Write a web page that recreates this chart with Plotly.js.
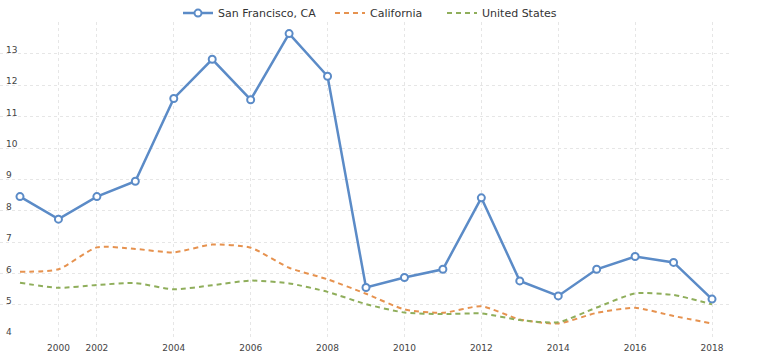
<!DOCTYPE html>
<html>
<head>
<meta charset="utf-8">
<script src="https://cdn.plot.ly/plotly-3.0.1.min.js"></script>
<style>html,body{margin:0;padding:0;background:#fff;}#chart{width:768px;height:353px;}</style>
</head>
<body>
<div id="chart"></div>
<script>
const years = ["1999","2000","2002","2003","2004","2005","2006","2007","2008","2009","2010","2011","2012","2013","2014","2015","2016","2017","2018"];
const sanFrancisco = [8.45,7.73,8.45,8.94,11.58,12.83,11.54,13.65,12.29,5.55,5.87,6.13,8.41,5.76,5.28,6.13,6.54,6.35,5.18];
const california = [6.05,6.13,6.83,6.78,6.67,6.92,6.82,6.18,5.81,5.35,4.85,4.74,4.95,4.53,4.40,4.74,4.90,4.64,4.40];
const unitedStates = [5.70,5.54,5.63,5.69,5.49,5.62,5.77,5.68,5.41,5.02,4.75,4.70,4.72,4.51,4.44,4.91,5.36,5.31,5.01];
const xTickYears = ["2000","2002","2004","2006","2008","2010","2012","2014","2016","2018"];
const yTickVals = [4,5,6,7,8,9,10,11,12,13,14];
const yTickText = ["4","5","6","7","8","9","10","11","12","13",""];

const font = {family: "DejaVu Sans, Verdana, sans-serif", size: 9, color: "#444"};
const legendFont = {family: "DejaVu Sans, Verdana, sans-serif", size: 11, color: "#333"};

const traces = [
  {x: years, y: sanFrancisco, name: "San Francisco, CA", type: "scatter", mode: "lines+markers", legend: "legend",
   line: {color: "#5b8bc7", width: 2.5},
   marker: {symbol: "circle", size: 7, color: "#ffffff", line: {color: "#5b8bc7", width: 2}}},
  {x: years, y: california, name: "California", type: "scatter", mode: "lines", legend: "legend2",
   line: {color: "#e6924f", width: 2, dash: "5px,4px", shape: "spline", smoothing: 0.6}},
  {x: years, y: unitedStates, name: "United States", type: "scatter", mode: "lines", legend: "legend3",
   line: {color: "#8fae5b", width: 2, dash: "5px,4px", shape: "spline", smoothing: 0.6}}
];

function legendAt(px) {
  return {orientation: "h", x: px / 768, xanchor: "left", xref: "container",
          y: 0.963, yanchor: "middle", yref: "container",
          font: legendFont, bgcolor: "rgba(0,0,0,0)", borderwidth: 0};
}

const layout = {
  width: 768, height: 353,
  margin: {l: 0, r: 36, t: 22, b: 16, pad: 0, autoexpand: false},
  paper_bgcolor: "#ffffff", plot_bgcolor: "#ffffff",
  font: font,
  showlegend: true,
  legend: legendAt(178),
  legend2: legendAt(330),
  legend3: legendAt(442),
  xaxis: {type: "category", categoryorder: "array", categoryarray: years,
          range: [-0.52, 18.52], tickmode: "array", tickvals: xTickYears, ticktext: xTickYears,
          ticklabelstandoff: 4,
          showgrid: true, gridcolor: "#e6e6e6", griddash: "3px,3px", gridwidth: 1,
          zeroline: false, showline: false, ticks: "", tickfont: font, automargin: false},
  yaxis: {range: [3.97, 14.02], tickmode: "array", tickvals: yTickVals, ticktext: yTickText,
          ticklabelposition: "inside", ticklabelshift: -4, ticklabelstandoff: 3, ticklabeloverflow: "allow",
          showgrid: true, gridcolor: "#e6e6e6", griddash: "3px,3px", gridwidth: 1,
          zeroline: false, showline: false, ticks: "", tickfont: font, automargin: false}
};

Plotly.newPlot("chart", traces, layout, {displayModeBar: false, staticPlot: true});
</script>
</body>
</html>
